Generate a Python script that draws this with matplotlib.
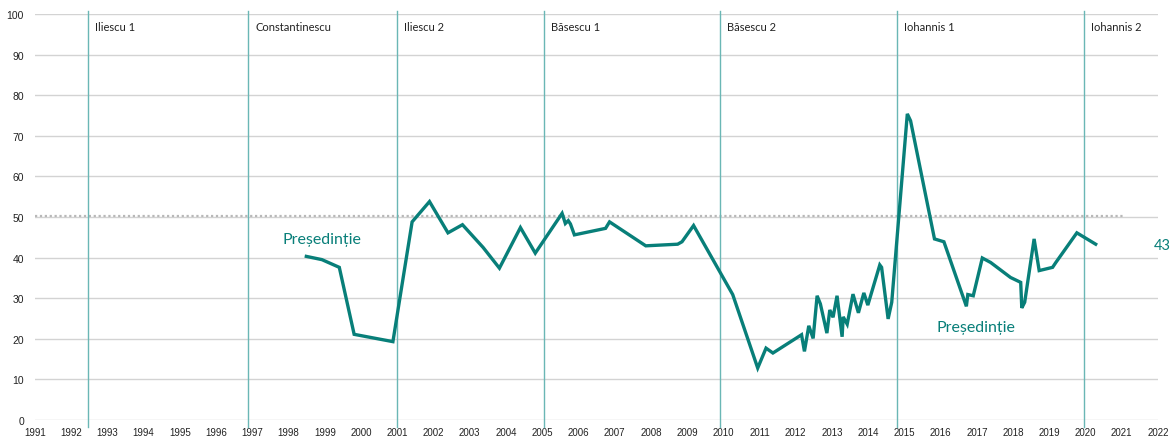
import matplotlib
matplotlib.use("Agg")
import matplotlib.pyplot as plt

# ---- data ----
dates = [1998.49, 1998.92, 1999.40, 1999.81, 2000.88, 2001.41, 2001.89, 2002.40, 2002.80,
         2003.37, 2003.82, 2004.40, 2004.81, 2005.55, 2005.64, 2005.72, 2005.78, 2005.89,
         2006.75, 2006.86, 2007.86, 2008.74, 2008.86, 2009.18, 2010.26, 2010.95, 2011.18,
         2011.37, 2012.16, 2012.24, 2012.36, 2012.48, 2012.59, 2012.68, 2012.86, 2012.94,
         2013.03, 2013.14, 2013.28, 2013.31, 2013.42, 2013.58, 2013.73, 2013.88, 2013.99,
         2014.32, 2014.37, 2014.55, 2014.65, 2015.08, 2015.17, 2015.83, 2016.09, 2016.71,
         2016.75, 2016.90, 2017.15, 2017.38, 2017.93, 2018.21, 2018.24, 2018.32, 2018.58,
         2018.72, 2019.09, 2019.18, 2019.76, 2020.28]
values = [40.3, 39.5, 37.6, 21.1, 19.3, 48.8, 53.8, 46.1, 48.1,
          42.5, 37.4, 47.4, 41.1, 50.9, 48.4, 49.1, 48.3, 45.6,
          47.2, 48.8, 42.9, 43.3, 43.9, 47.9, 30.9, 12.8, 17.7,
          16.5, 21.0, 16.9, 23.2, 20.1, 30.6, 28.6, 21.4, 27.1,
          25.3, 30.6, 20.5, 25.4, 23.6, 31.0, 26.4, 31.3, 28.3,
          38.2, 37.6, 24.9, 29.0, 75.4, 73.7, 44.6, 43.9, 28.0,
          30.9, 30.6, 39.9, 38.8, 35.1, 33.9, 27.6, 29.0, 44.6,
          36.8, 37.6, 38.8, 46.1, 43.3]

terms = ["Iliescu 1", "Constantinescu", "Iliescu 2", "Băsescu 1", "Băsescu 2",
         "Iohannis 1", "Iohannis 2"]
term_starts = [1992.46, 1996.89, 2000.99, 2005.05, 2009.92, 2014.80, 2019.97]

threshold = 50.3
threshold_end = 2021.03
last_label = "43"
series_label = "Președinție"
years = list(range(1991, 2023))
yticks = list(range(0, 101, 10))

# ---- style ----
main_color = "#087F79"
vline_color = "#6AB7B5"
grid_color = "#D3D3D3"

fig = plt.figure(figsize=(11.75, 4.39), dpi=100)
ax = fig.add_axes([35 / 1175, 1 - 421 / 439, (1158 - 35) / 1175, (421 - 15) / 439])
ax.set_xlim(1991, 2022)
ax.set_ylim(0, 100)

for s in ax.spines.values():
    s.set_visible(False)

for v in yticks:
    ax.axhline(v, color=grid_color, lw=1.0, zorder=1)

ax.plot([1991, threshold_end], [threshold, threshold], color="#B8B8B8", lw=1.6,
        ls=(0, (1, 1.2)), zorder=2)

for name, x in zip(terms, term_starts):
    ax.plot([x, x], [-1.8, 100.8], color=vline_color, lw=1.0, zorder=2, clip_on=False)
    ax.annotate(name, (x, 97.0), xytext=(5, 0), textcoords="offset points",
                ha="left", va="center", fontsize=8, family="Lato", color="#222222")

ax.plot(dates, values, color=main_color, lw=2.4, zorder=3, solid_joinstyle="miter")

ax.text(1998.93, 44.7, series_label, fontsize=11.5, family="Lato", color=main_color,
        ha="center", va="center")
ax.text(2016.98, 22.9, series_label, fontsize=11.5, family="Lato", color=main_color,
        ha="center", va="center")
ax.text(2021.89, 43.2, last_label, fontsize=10.5, family="Lato", color=main_color,
        ha="left", va="center", clip_on=False)

ax.set_xticks(years)
ax.set_xticklabels([str(y) for y in years], fontsize=7, family="Liberation Sans",
                   color="#222222")
ax.set_yticks(yticks)
ax.set_yticklabels([str(v) for v in yticks], fontsize=7.5, family="Liberation Sans",
                   color="#222222")
ax.tick_params(axis="both", length=0)
ax.tick_params(axis="x", pad=5)
ax.tick_params(axis="y", pad=8)

fig.savefig("out.png", dpi=100)
